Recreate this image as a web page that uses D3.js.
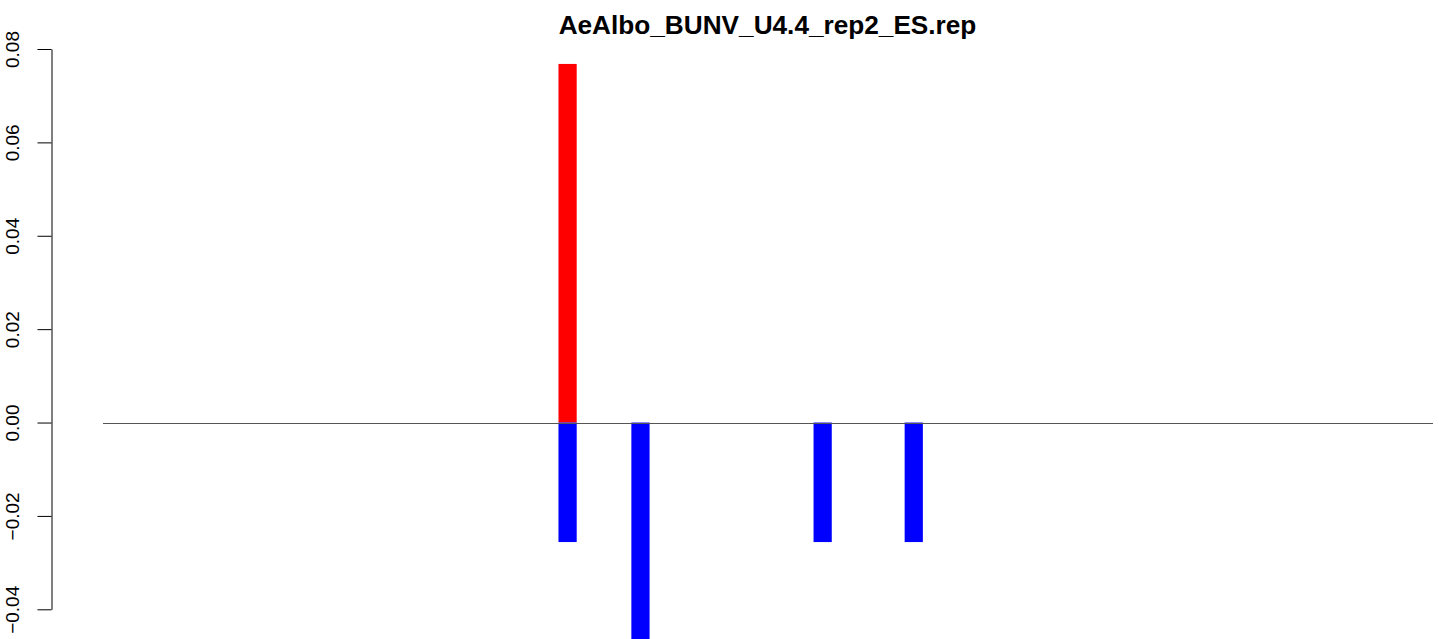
<!DOCTYPE html>
<html>
<head>
<meta charset="utf-8">
<script src="https://cdn.jsdelivr.net/npm/d3@7/dist/d3.min.js"></script>
<style>
  html, body { margin: 0; padding: 0; background: #fff; }
  svg { display: block; }
</style>
</head>
<body>
<script>
// ---- data ----
const title = "AeAlbo_BUNV_U4.4_rep2_ES.rep";
const slotCount = 73;                 // number of positions along the x axis
const barSlots = [25, 29, 39, 44];    // positions that carry bars
const posValues = [0.0768, 0, 0, 0];  // red (positive) part
const negValues = [-0.0256, -0.0466, -0.0256, -0.0256]; // blue (negative) part
const yTicks = [-0.04, -0.02, 0.00, 0.02, 0.04, 0.06, 0.08];
const yTickLabels = ["\u22120.04", "\u22120.02", "0.00", "0.02", "0.04", "0.06", "0.08"];

// ---- layout ----
const W = 1439, H = 639;
const svg = d3.select("body").append("svg").attr("width", W).attr("height", H);

const slots = Array.from({length: slotCount}, (_, i) => i);
const x = d3.scaleBand().domain(slots).range([103, 1433]).padding(0);
const y = d3.scaleLinear().domain([-0.04, 0.08]).range([609.3, 49]);

svg.append("defs").append("clipPath").attr("id", "clip")
  .append("rect").attr("x", 0).attr("y", 0).attr("width", W).attr("height", H);

const g = svg.append("g").attr("clip-path", "url(#clip)");

const rows = barSlots.map((s, i) => ({slot: s, pos: posValues[i], neg: negValues[i]}));

g.selectAll("rect.pos").data(rows.filter(d => d.pos > 0)).join("rect")
  .attr("class", "pos")
  .attr("x", d => x(d.slot))
  .attr("width", x.bandwidth())
  .attr("y", d => y(d.pos))
  .attr("height", d => y(0) - y(d.pos))
  .attr("fill", "#ff0000");

g.selectAll("rect.neg").data(rows.filter(d => d.neg < 0)).join("rect")
  .attr("class", "neg")
  .attr("x", d => x(d.slot))
  .attr("width", x.bandwidth())
  .attr("y", y(0))
  .attr("height", d => y(d.neg) - y(0))
  .attr("fill", "#0000ff");

// zero line
svg.append("line")
  .attr("x1", x.range()[0]).attr("x2", x.range()[1])
  .attr("y1", Math.round(y(0)) + 0.5).attr("y2", Math.round(y(0)) + 0.5)
  .attr("stroke", "#555").attr("stroke-width", 1);

// y axis
const axis = d3.axisLeft(y).tickValues(yTicks)
  .tickFormat((d, i) => yTickLabels[i]).tickSize(14).tickSizeOuter(0).tickPadding(0);
const ag = svg.append("g").attr("transform", "translate(51.5,0)").call(axis);
ag.select(".domain").attr("stroke", "#000").attr("stroke-width", 1);
ag.selectAll(".tick line").attr("stroke", "#000").attr("stroke-width", 1);
ag.selectAll(".tick text")
  .attr("font-family", "Liberation Sans, Arial, Helvetica, sans-serif")
  .attr("font-size", 19)
  .attr("fill", "#000")
  .attr("text-anchor", "middle")
  .attr("dy", null)
  .attr("x", null)
  .attr("transform", "translate(-33,0) rotate(-90)");

// title
const t = svg.append("text")
  .attr("x", 767.5)
  .attr("y", 34)
  .attr("text-anchor", "middle")
  .attr("font-family", "Liberation Sans, Arial, Helvetica, sans-serif")
  .attr("font-weight", "bold")
  .attr("font-size", 24)
  .attr("fill", "#000")
  .text(title);
// fit to measured reference width
const tw = t.node().getComputedTextLength();
if (tw > 0) t.attr("font-size", 24 * 418 / tw);
</script>
</body>
</html>
